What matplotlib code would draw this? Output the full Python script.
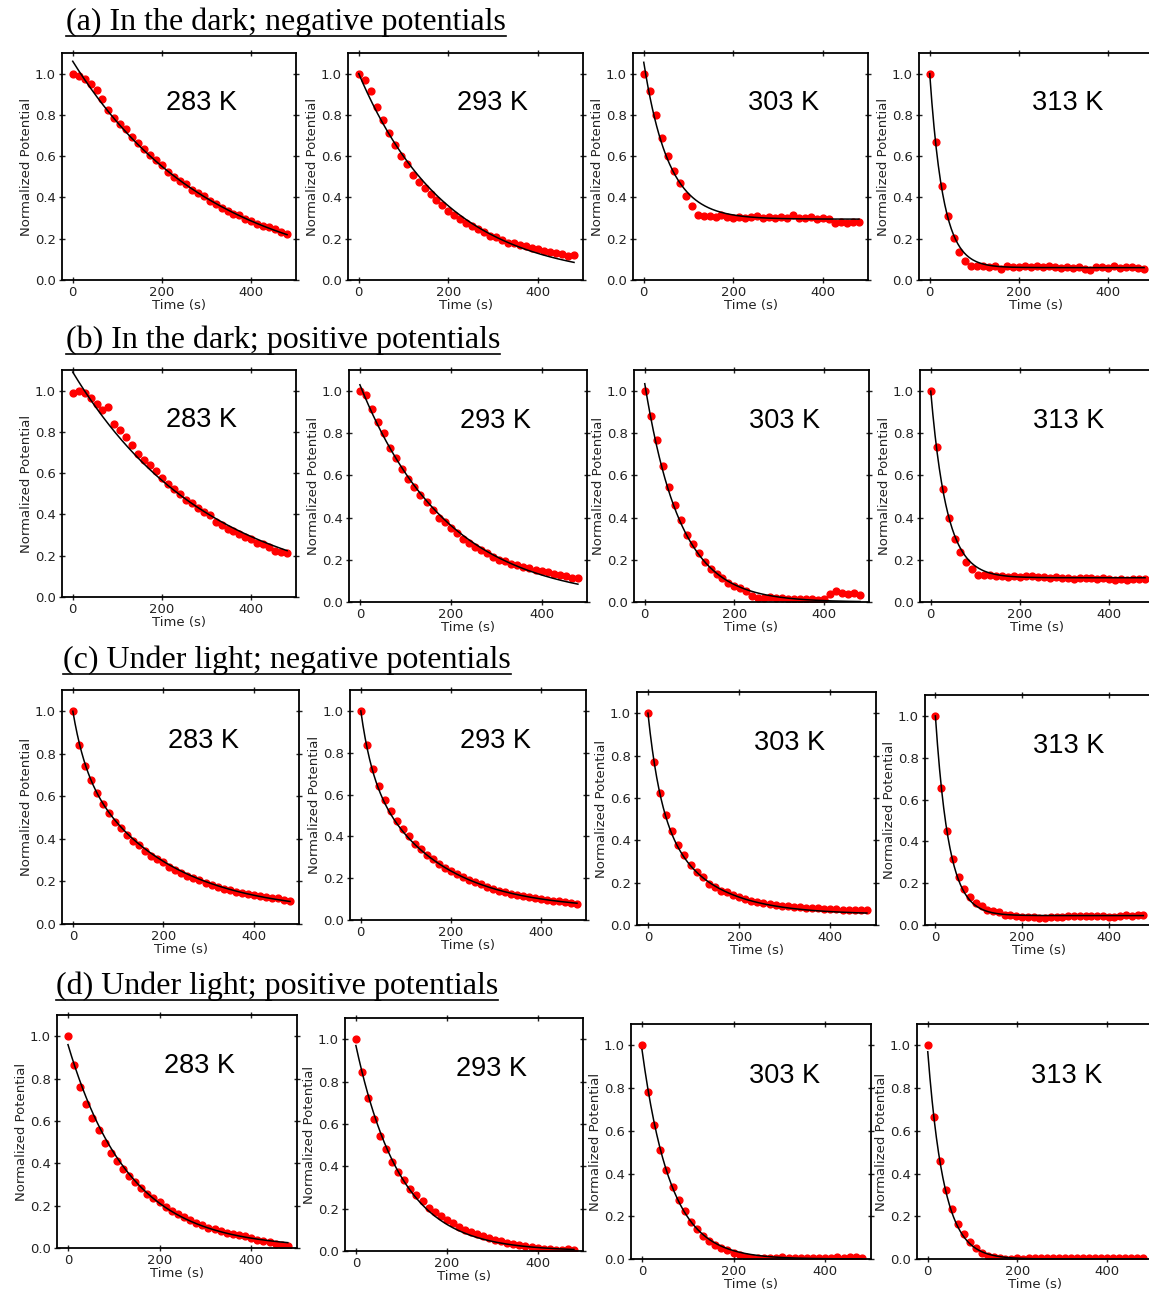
import numpy as np
import matplotlib
matplotlib.use("Agg")
import matplotlib.pyplot as plt
from matplotlib.lines import Line2D

# ---- data ----
time_s = np.linspace(0, 480, 37)
temps = ["283 K", "293 K", "303 K", "313 K"]
row_titles = ["(a) In the dark; negative potentials",
              "(b) In the dark; positive potentials",
              "(c) Under light; negative potentials",
              "(d) Under light; positive potentials"]

dark_neg = [
    [1.00, 0.99, 0.975, 0.95, 0.92, 0.875, 0.825, 0.785, 0.755, 0.73, 0.695, 0.665, 0.635,
     0.605, 0.58, 0.555, 0.525, 0.50, 0.48, 0.465, 0.435, 0.42, 0.405, 0.385, 0.37, 0.35,
     0.335, 0.32, 0.315, 0.295, 0.285, 0.27, 0.26, 0.255, 0.245, 0.235, 0.225],
    [1.00, 0.97, 0.915, 0.84, 0.775, 0.71, 0.655, 0.60, 0.56, 0.51, 0.475, 0.445, 0.415,
     0.39, 0.365, 0.335, 0.315, 0.295, 0.275, 0.26, 0.245, 0.235, 0.215, 0.21, 0.195, 0.18,
     0.18, 0.17, 0.165, 0.155, 0.15, 0.14, 0.135, 0.13, 0.125, 0.115, 0.12],
    [1.00, 0.915, 0.80, 0.69, 0.60, 0.53, 0.47, 0.405, 0.36, 0.315, 0.31, 0.31, 0.305,
     0.315, 0.305, 0.30, 0.305, 0.30, 0.305, 0.31, 0.30, 0.305, 0.30, 0.305, 0.30, 0.315,
     0.30, 0.30, 0.305, 0.295, 0.30, 0.295, 0.275, 0.28, 0.275, 0.28, 0.28],
    [1.00, 0.67, 0.455, 0.31, 0.205, 0.135, 0.09, 0.07, 0.07, 0.07, 0.065, 0.07, 0.055,
     0.07, 0.065, 0.065, 0.07, 0.065, 0.07, 0.065, 0.07, 0.065, 0.06, 0.065, 0.06, 0.065,
     0.055, 0.05, 0.065, 0.065, 0.06, 0.07, 0.06, 0.065, 0.065, 0.06, 0.055],
]
dark_pos = [
    [0.99, 1.00, 0.99, 0.965, 0.935, 0.905, 0.92, 0.84, 0.81, 0.775, 0.735, 0.695, 0.665,
     0.64, 0.61, 0.575, 0.55, 0.525, 0.50, 0.47, 0.455, 0.43, 0.41, 0.395, 0.365, 0.35,
     0.33, 0.32, 0.305, 0.29, 0.28, 0.26, 0.255, 0.24, 0.225, 0.22, 0.215],
    [1.00, 0.98, 0.915, 0.855, 0.80, 0.73, 0.685, 0.63, 0.585, 0.545, 0.505, 0.475, 0.435,
     0.40, 0.38, 0.35, 0.325, 0.30, 0.28, 0.26, 0.245, 0.23, 0.215, 0.20, 0.195, 0.18,
     0.175, 0.165, 0.16, 0.15, 0.145, 0.14, 0.135, 0.13, 0.125, 0.115, 0.115],
    [1.00, 0.88, 0.77, 0.645, 0.545, 0.46, 0.39, 0.32, 0.275, 0.23, 0.19, 0.155, 0.135,
     0.115, 0.09, 0.075, 0.065, 0.05, 0.03, 0.02, 0.02, 0.025, 0.02, 0.02, 0.015, 0.015,
     0.015, 0.015, 0.015, 0.01, 0.015, 0.04, 0.05, 0.045, 0.04, 0.045, 0.035],
    [1.00, 0.735, 0.535, 0.40, 0.30, 0.235, 0.19, 0.155, 0.13, 0.13, 0.13, 0.125, 0.125,
     0.12, 0.125, 0.12, 0.125, 0.125, 0.12, 0.12, 0.115, 0.12, 0.115, 0.115, 0.11, 0.115,
     0.115, 0.115, 0.11, 0.115, 0.11, 0.105, 0.11, 0.105, 0.11, 0.11, 0.11],
]
light_neg = [
    [1.00, 0.84, 0.745, 0.675, 0.615, 0.565, 0.52, 0.48, 0.45, 0.42, 0.39, 0.37, 0.345,
     0.32, 0.305, 0.29, 0.27, 0.255, 0.24, 0.225, 0.215, 0.205, 0.195, 0.185, 0.175, 0.165,
     0.16, 0.15, 0.145, 0.14, 0.135, 0.13, 0.125, 0.12, 0.12, 0.115, 0.11],
    [1.00, 0.835, 0.72, 0.64, 0.575, 0.52, 0.475, 0.435, 0.40, 0.365, 0.34, 0.31, 0.29,
     0.27, 0.25, 0.235, 0.22, 0.205, 0.19, 0.18, 0.17, 0.16, 0.15, 0.14, 0.135, 0.125,
     0.12, 0.115, 0.11, 0.105, 0.10, 0.095, 0.09, 0.09, 0.085, 0.08, 0.075],
    [1.00, 0.77, 0.625, 0.52, 0.445, 0.38, 0.33, 0.285, 0.25, 0.225, 0.195, 0.18, 0.16,
     0.155, 0.14, 0.13, 0.125, 0.115, 0.11, 0.105, 0.10, 0.095, 0.09, 0.09, 0.085, 0.085,
     0.08, 0.08, 0.08, 0.075, 0.075, 0.075, 0.07, 0.07, 0.07, 0.07, 0.07],
    [1.00, 0.655, 0.45, 0.315, 0.23, 0.17, 0.135, 0.105, 0.09, 0.07, 0.065, 0.06, 0.05,
     0.05, 0.045, 0.04, 0.04, 0.04, 0.035, 0.035, 0.04, 0.04, 0.04, 0.045, 0.045, 0.045,
     0.045, 0.045, 0.045, 0.045, 0.04, 0.04, 0.045, 0.05, 0.045, 0.05, 0.05],
]
light_pos = [
    [1.00, 0.865, 0.76, 0.68, 0.615, 0.555, 0.495, 0.45, 0.41, 0.375, 0.34, 0.31, 0.285,
     0.255, 0.235, 0.215, 0.195, 0.175, 0.16, 0.145, 0.13, 0.12, 0.11, 0.095, 0.09, 0.08,
     0.07, 0.065, 0.06, 0.055, 0.045, 0.04, 0.035, 0.03, 0.02, 0.015, 0.01],
    [1.00, 0.845, 0.72, 0.625, 0.545, 0.48, 0.42, 0.375, 0.335, 0.295, 0.265, 0.235, 0.205,
     0.185, 0.165, 0.145, 0.13, 0.115, 0.10, 0.09, 0.08, 0.07, 0.06, 0.05, 0.045, 0.04,
     0.035, 0.03, 0.025, 0.02, 0.015, 0.01, 0.01, 0.005, 0.005, 0.01, 0.005],
    [1.00, 0.78, 0.625, 0.51, 0.415, 0.335, 0.275, 0.225, 0.175, 0.14, 0.11, 0.085, 0.065,
     0.05, 0.04, 0.03, 0.02, 0.01, 0.005, 0.005, 0.005, 0.005, 0.005, 0.01, 0.005, 0.005,
     0.005, 0.005, 0.005, 0.005, 0.005, 0.005, 0.01, 0.005, 0.01, 0.01, 0.005],
    [1.00, 0.665, 0.46, 0.325, 0.235, 0.165, 0.115, 0.08, 0.05, 0.03, 0.015, 0.01, 0.005,
     0.0, 0.0, 0.005, 0.0, 0.005, 0.005, 0.005, 0.005, 0.005, 0.005, 0.005, 0.005, 0.005,
     0.005, 0.005, 0.005, 0.005, 0.005, 0.005, 0.005, 0.005, 0.005, 0.005, 0.005],
]
all_rows = [dark_neg, dark_pos, light_neg, light_pos]

# exponential fit parameters per panel: (A1, tau1, A2, tau2, offset)
fit_params = [
    [(1.06, 305, 0, 1, 0.0), (1.00, 195, 0, 1, 0.0), (0.76, 55, 0, 1, 0.295), (0.94, 30, 0, 1, 0.06)],
    [(1.09, 304, 0, 1, 0.0), (1.03, 192, 0, 1, 0.0), (1.035, 79, 0, 1, 0.0), (0.885, 36, 0, 1, 0.115)],
    [(0.25, 28, 0.70, 190, 0.05), (0.28, 25, 0.67, 155, 0.05), (0.45, 28, 0.50, 110, 0.05), (0.955, 31, 0, 1, 0.045)],
    [(0.96, 132, 0, 1, 0.0), (0.97, 98, 0, 1, 0.0), (0.98, 62, 0, 1, 0.0), (0.97, 36, 0, 1, 0.0)],
]

# ---- layout (pixel boxes: left, top, right, bottom) ----
W, H = 1149, 1294
boxes = [
    [(62, 53, 296, 280), (348, 53, 583, 280), (633, 53, 868, 280), (919, 53, 1153, 280)],
    [(62, 370, 296, 597), (349, 370, 587, 602), (634, 370, 869, 602), (920, 370, 1154, 602)],
    [(62, 690, 299, 924), (350, 690, 586, 920), (637, 692, 876, 925), (925, 695, 1152, 925)],
    [(57, 1015, 297, 1248), (345, 1018, 583, 1251), (631, 1024, 871, 1259), (917, 1024, 1152, 1259)],
]
title_pos = [(66, 30), (66, 348), (63, 668), (56, 994)]
label_x = [0.595, 0.615, 0.64, 0.635]

fig = plt.figure(figsize=(W / 100, H / 100), dpi=100)

t_fit = np.linspace(0, 480, 300)
for r in range(4):
    for c in range(4):
        l, t, rr, b = boxes[r][c]
        ax = fig.add_axes([l / W, 1 - b / H, (rr - l) / W, (b - t) / H])
        A1, k1, A2, k2, y0 = fit_params[r][c]
        fit = A1 * np.exp(-t_fit / k1) + A2 * np.exp(-t_fit / k2) + y0
        ax.scatter(time_s, all_rows[r][c], s=24, color='red', zorder=2)
        ax.plot(t_fit, fit, color='black', lw=1.1, zorder=3)
        ax.set_xlim(-24, 500)
        ax.set_ylim(0, 1.1)
        ax.set_xticks([0, 200, 400])
        ax.set_yticks([0.0, 0.2, 0.4, 0.6, 0.8, 1.0])
        ax.tick_params(direction='inout', top=True, right=True, length=5, width=1,
                       labelsize=9.5, colors='#222222', pad=2)
        for sp in ax.spines.values():
            sp.set_linewidth(1.3)
        ax.set_xlabel('Time (s)', fontsize=9.5, labelpad=0, color='#222222')
        ax.set_ylabel('Normalized Potential', fontsize=9.5, labelpad=1, color='#222222')
        ax.text(label_x[c], 0.78, temps[c], transform=ax.transAxes, ha='center', va='center',
                fontsize=19.5, family='Liberation Sans')

# row titles, underlined
fig.canvas.draw()
renderer = fig.canvas.get_renderer()
for (x, y), title in zip(title_pos, row_titles):
    txt = fig.text(x / W, 1 - y / H, title, fontsize=23, family='Liberation Serif',
                   ha='left', va='baseline')
    bb = txt.get_window_extent(renderer=renderer)
    yl = 1 - (y + 6) / H
    fig.add_artist(Line2D([bb.x0 / W, bb.x1 / W], [yl, yl], color='black', lw=1.2))

fig.savefig('out.png', dpi=100)
